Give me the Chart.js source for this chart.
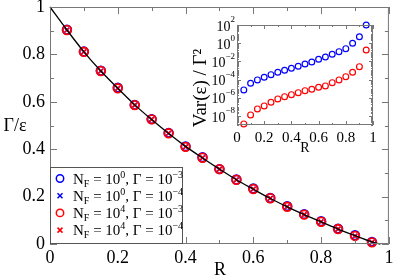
<!DOCTYPE html>
<html>
<head>
<meta charset="utf-8">
<script src="https://cdn.jsdelivr.net/npm/chart.js@4.4.0/dist/chart.umd.min.js"></script>
<style>
  html, body { margin: 0; padding: 0; background: #fff; }
  #wrap { position: relative; width: 395px; height: 279px; }
  #main { position: absolute; left: 0; top: 0; }
  #inset { position: absolute; left: 190px; top: 15px; }
</style>
</head>
<body>
<div id="wrap">
  <canvas id="main" width="395" height="279"></canvas>
  <canvas id="inset" width="195" height="140"></canvas>
</div>
<script>
// data
const R = [0.05, 0.1, 0.15, 0.2, 0.25, 0.3, 0.35, 0.4, 0.45, 0.5, 0.55, 0.6, 0.65, 0.7, 0.75, 0.8, 0.85, 0.9, 0.95];
const nf0g3 = [0.904, 0.812, 0.731, 0.660, 0.587, 0.527, 0.469, 0.412, 0.366, 0.316, 0.272, 0.234, 0.194, 0.160, 0.126, 0.096, 0.065, 0.037, 0.009];
const nf0g4 = [0.903, 0.811, 0.730, 0.657, 0.586, 0.526, 0.467, 0.410, 0.364, 0.316, 0.271, 0.232, 0.193, 0.157, 0.124, 0.094, 0.063, 0.034, 0.007];
const nf4g3 = [0.903, 0.811, 0.730, 0.657, 0.586, 0.526, 0.467, 0.410, 0.364, 0.316, 0.271, 0.232, 0.193, 0.157, 0.124, 0.094, 0.063, 0.034, 0.007];
const nf4g4 = [0.903, 0.811, 0.730, 0.657, 0.586, 0.526, 0.467, 0.410, 0.364, 0.316, 0.271, 0.232, 0.193, 0.157, 0.124, 0.094, 0.063, 0.034, 0.007];
const curveR = [0, 0.05, 0.1, 0.15, 0.2, 0.25, 0.3, 0.35, 0.4, 0.45, 0.5, 0.55, 0.6, 0.65, 0.7, 0.75, 0.8, 0.85, 0.9, 0.95, 0.975];
const curveY = [1, 0.903, 0.811, 0.730, 0.657, 0.587, 0.525, 0.466, 0.412, 0.363, 0.316, 0.271, 0.231, 0.192, 0.157, 0.124, 0.093, 0.063, 0.035, 0.009, 0];

// inset: exponents of Var(eps)/Gamma^2
const varNF0 = [-5.14, -4.41, -4.04, -3.75, -3.46, -3.2, -2.98, -2.76, -2.54, -2.29, -2.07, -1.77, -1.52, -1.22, -0.93, -0.6, -0.01, 0.71, 2.0];
const varNF4 = [-8.88, -7.89, -7.23, -6.9, -6.5, -6.13, -5.88, -5.66, -5.44, -5.22, -5.07, -4.85, -4.7, -4.34, -4.04, -3.68, -3.2, -2.58, -0.75];

const linTicks = [0, 0.2, 0.4, 0.6, 0.8, 1];
const linMinor = [0.1, 0.3, 0.5, 0.7, 0.9];
const logLabelExp = [-8, -6, -4, -2, 0, 2];
const legendNF = ['0', '0', '4', '4'];
const legendG = ['\u22123', '\u22124', '\u22123', '\u22124'];

const SERIF = '"Liberation Serif", "Times New Roman", serif';
const FRAME = '#777';
const BLUE = '#0000ff', RED = '#ff0000';

function pts(xs, ys) { return xs.map((x, i) => ({ x: x, y: ys[i] })); }
function logPts(xs, es) { return xs.map((x, i) => ({ x: x, y: Math.pow(10, es[i]) })); }
function fmt(v) { return String(+v.toFixed(1)); }

// text with sub/superscripts: parts = [text, size, dy]
function drawRich(ctx, parts, x, y) {
  for (const [t, size, dy] of parts) {
    ctx.font = size + 'px ' + SERIF;
    ctx.fillText(t, x, y + dy);
    x += ctx.measureText(t).width;
  }
  return x;
}
function richWidth(ctx, parts) {
  let w = 0;
  for (const [t, size] of parts) { ctx.font = size + 'px ' + SERIF; w += ctx.measureText(t).width; }
  return w;
}

function frameAndTicks(chart, xMaj, xMin, yMaj, yMin, lenMaj, lenMin) {
  const { ctx, chartArea: a, scales: { x, y } } = chart;
  ctx.save();
  ctx.strokeStyle = FRAME;
  ctx.lineWidth = 1;
  ctx.strokeRect(a.left + 0.5, a.top + 0.5, a.right - a.left - 1, a.bottom - a.top - 1);
  ctx.beginPath();
  const tx = (v, len) => {
    const p = Math.round(x.getPixelForValue(v)) + 0.5;
    ctx.moveTo(p, a.bottom); ctx.lineTo(p, a.bottom - len);
    ctx.moveTo(p, a.top); ctx.lineTo(p, a.top + len);
  };
  const ty = (v, len) => {
    const p = Math.round(y.getPixelForValue(v)) + 0.5;
    ctx.moveTo(a.left, p); ctx.lineTo(a.left + len, p);
    ctx.moveTo(a.right, p); ctx.lineTo(a.right - len, p);
  };
  xMaj.forEach(v => tx(v, lenMaj));
  xMin.forEach(v => tx(v, lenMin));
  yMaj.forEach(v => ty(v, lenMaj));
  yMin.forEach(v => ty(v, lenMin));
  ctx.stroke();
  ctx.restore();
}

const mainDecor = {
  id: 'mainDecor',
  afterDatasetsDraw(chart) {
    frameAndTicks(chart, linTicks, linMinor, linTicks, linMinor, 7, 4);
    const ctx = chart.ctx;
    ctx.save();
    // y title, horizontal
    ctx.fillStyle = '#000';
    ctx.font = '18px ' + SERIF;
    ctx.textAlign = 'center';
    ctx.textBaseline = 'middle';
    ctx.fillText('\u0393/\u03b5', 15, 126);
    ctx.fillText('R', 220, 270);
    // legend box
    const a = chart.chartArea;
    const bx = a.left, by = 167, bw = 133, bh = a.bottom - 167;
    ctx.fillStyle = '#fff';
    ctx.fillRect(bx, by, bw, bh);
    ctx.strokeStyle = '#555';
    ctx.lineWidth = 1;
    ctx.strokeRect(bx + 0.5, by + 0.5, bw - 1, bh - 1);
    const colors = [BLUE, BLUE, RED, RED];
    ctx.textAlign = 'left';
    ctx.textBaseline = 'alphabetic';
    for (let i = 0; i < 4; i++) {
      const cy = 178.5 + i * 17.2;
      ctx.strokeStyle = colors[i];
      ctx.lineWidth = 1.5;
      ctx.beginPath();
      if (i % 2 === 0) {
        ctx.arc(60, cy, 3.7, 0, Math.PI * 2);
      } else {
        ctx.moveTo(57.5, cy - 2.5); ctx.lineTo(62.5, cy + 2.5);
        ctx.moveTo(62.5, cy - 2.5); ctx.lineTo(57.5, cy + 2.5);
      }
      ctx.stroke();
      ctx.fillStyle = '#000';
      drawRich(ctx, [['N', 15, 0], ['F', 10, 3], [' = 10', 15, 0], [legendNF[i], 10, -6],
        [', \u0393 = 10', 15, 0], [legendG[i], 10, -6]], 73, cy + 5);
    }
    ctx.restore();
  }
};

const circle = (label, data, color, order) => ({
  label, data, order, showLine: false, clip: false,
  pointStyle: 'circle', pointRadius: 4.3, borderWidth: 1.8,
  borderColor: color, backgroundColor: 'rgba(0,0,0,0)'
});
const cross = (label, data, color, order) => ({
  label, data, order, showLine: false, clip: false,
  pointStyle: 'crossRot', pointRadius: 3.2, borderWidth: 1.5,
  borderColor: color, backgroundColor: color
});

new Chart(document.getElementById('main'), {
  type: 'scatter',
  data: {
    datasets: [
      { label: 'theory', data: pts(curveR, curveY), order: 0, showLine: true, pointRadius: 0,
        borderColor: '#000', borderWidth: 1.3, cubicInterpolationMode: 'monotone', clip: false },
      circle('NF=1e0, G=1e-3', pts(R, nf0g3), BLUE, 4),
      cross('NF=1e0, G=1e-4', pts(R, nf0g4), BLUE, 3),
      circle('NF=1e4, G=1e-3', pts(R, nf4g3), RED, 2),
      cross('NF=1e4, G=1e-4', pts(R, nf4g4), RED, 1)
    ]
  },
  options: {
    responsive: false,
    animation: false,
    devicePixelRatio: 1,
    layout: { padding: { top: 7, right: 5, left: 0, bottom: 0 } },
    plugins: { legend: { display: false }, tooltip: { enabled: false } },
    scales: {
      x: {
        type: 'linear', min: 0, max: 1,
        afterFit: s => { s.height = 35; s.paddingLeft = 0; s.paddingRight = 0; },
        afterBuildTicks: s => { s.ticks = linTicks.map(v => ({ value: v })); },
        grid: { display: false, drawTicks: false },
        border: { display: false },
        ticks: { padding: 3, color: '#000', font: { family: SERIF, size: 18 }, callback: fmt, maxRotation: 0 }
      },
      y: {
        type: 'linear', min: 0, max: 1,
        afterFit: s => { s.width = 50; s.paddingTop = 0; s.paddingBottom = 0; },
        afterBuildTicks: s => { s.ticks = linTicks.map(v => ({ value: v })); },
        grid: { display: false, drawTicks: false },
        border: { display: false },
        ticks: { padding: 5, color: '#000', font: { family: SERIF, size: 18 }, callback: fmt }
      }
    }
  },
  plugins: [mainDecor]
});

// inset
const logMinor = [];
for (let e = -9; e < 2; e++) {
  if (e % 2 !== 0) logMinor.push(Math.pow(10, e));
  for (let k = 2; k <= 9; k++) logMinor.push(k * Math.pow(10, e));
}

const insetDecor = {
  id: 'insetDecor',
  afterDatasetsDraw(chart) {
    frameAndTicks(chart, linTicks, linMinor, logLabelExp.map(e => Math.pow(10, e)), logMinor, 4, 2);
    const { ctx, chartArea: a, scales: { y } } = chart;
    ctx.save();
    ctx.fillStyle = '#000';
    ctx.textBaseline = 'middle';
    ctx.textAlign = 'left';
    for (const e of logLabelExp) {
      const py = y.getPixelForValue(Math.pow(10, e));
      const sup = e < 0 ? '\u2212' + (-e) : String(e);
      const parts = [['10', 14, 2], [sup, 9, -5]];
      const w = richWidth(ctx, parts);
      drawRich(ctx, parts, a.left - 2 - w, py);
    }
    ctx.textAlign = 'center';
    ctx.font = '14px ' + SERIF;
    ctx.fillText('R', 115, 133);
    // rotated y title
    ctx.translate(11, 73);
    ctx.rotate(-Math.PI / 2);
    ctx.font = '19px ' + SERIF;
    ctx.fillText('Var(\u03b5) / \u0393\u00b2', 0, 0);
    ctx.restore();
  }
};

new Chart(document.getElementById('inset'), {
  type: 'scatter',
  data: {
    datasets: [
      { label: 'NF=1e0', data: logPts(R, varNF0), showLine: false, clip: false, pointStyle: 'circle',
        pointRadius: 2.9, borderWidth: 1.2, borderColor: BLUE, backgroundColor: 'rgba(0,0,0,0)' },
      { label: 'NF=1e4', data: logPts(R, varNF4), showLine: false, clip: false, pointStyle: 'circle',
        pointRadius: 2.9, borderWidth: 1.2, borderColor: RED, backgroundColor: 'rgba(0,0,0,0)' }
    ]
  },
  options: {
    responsive: false,
    animation: false,
    devicePixelRatio: 1,
    layout: { padding: { top: 10, right: 12, left: 0, bottom: 0 } },
    plugins: { legend: { display: false }, tooltip: { enabled: false } },
    scales: {
      x: {
        type: 'linear', min: 0, max: 1,
        afterFit: s => { s.height = 30; s.paddingLeft = 0; s.paddingRight = 0; },
        afterBuildTicks: s => { s.ticks = linTicks.map(v => ({ value: v })); },
        grid: { display: false, drawTicks: false },
        border: { display: false },
        ticks: { padding: 4, color: '#000', font: { family: SERIF, size: 15 }, callback: fmt, maxRotation: 0 }
      },
      y: {
        type: 'logarithmic', min: 1e-9, max: 1e2,
        afterFit: s => { s.width = 47; s.paddingTop = 0; s.paddingBottom = 0; },
        grid: { display: false, drawTicks: false },
        border: { display: false },
        ticks: { display: false }
      }
    }
  },
  plugins: [insetDecor]
});
</script>
</body>
</html>
